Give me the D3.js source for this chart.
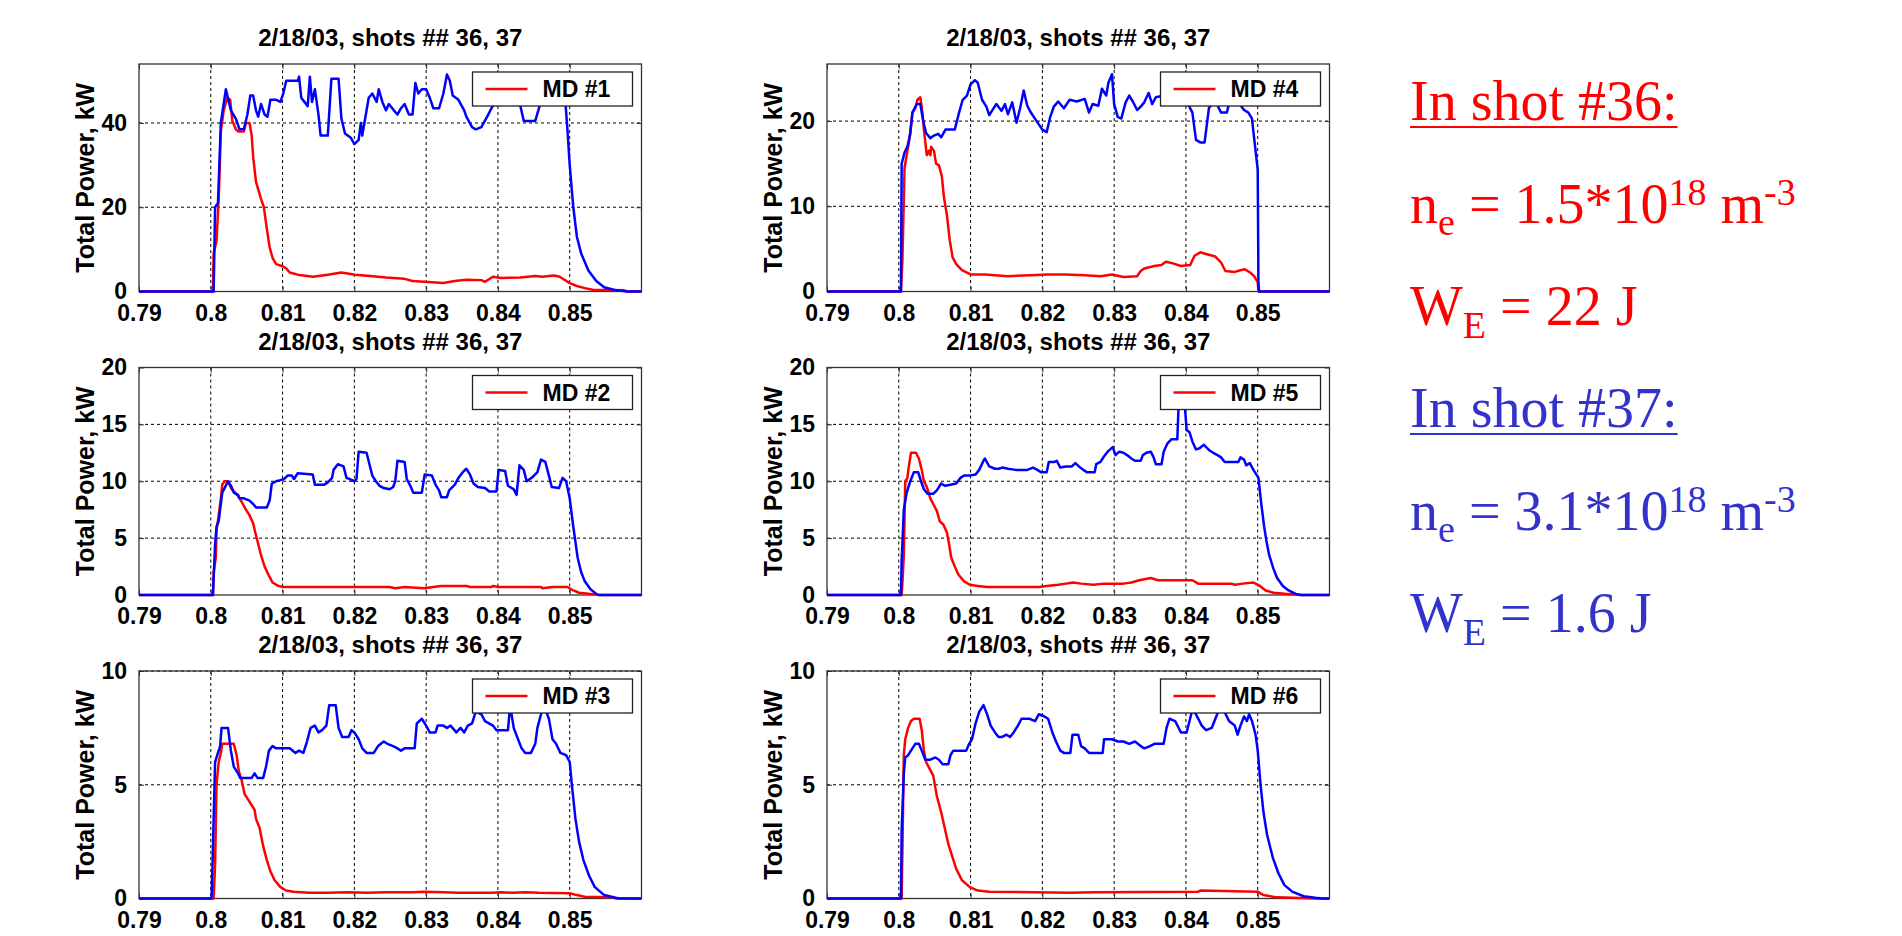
<!DOCTYPE html>
<html>
<head>
<meta charset="utf-8">
<script src="https://cdn.jsdelivr.net/npm/d3@7"></script>
<style>
  html, body { margin: 0; padding: 0; background: #ffffff; }
  svg { display: block; }
  text { white-space: pre; }
</style>
</head>
<body>
<svg id="chart" width="1902" height="936"></svg>
<script>
// ---------------- DATA ----------------
const chartTitle = "2/18/03, shots ## 36, 37";
const yAxisLabel = "Total Power, kW";
const xTicks = [0.79, 0.80, 0.81, 0.82, 0.83, 0.84, 0.85];
const xTickLabels = ["0.79", "0.8", "0.81", "0.82", "0.83", "0.84", "0.85"];
const xDomain = [0.79, 0.86];
const legendLabels = ["MD #1", "MD #2", "MD #3", "MD #4", "MD #5", "MD #6"];
const yMaxes = [54, 20, 10, 26.7, 20, 10];
const yTicks1 = [0, 20, 40];
const yTicks2 = [0, 5, 10, 15, 20];
const yTicks3 = [0, 5, 10];
const yTicks4 = [0, 10, 20];
const yTicks5 = [0, 5, 10, 15, 20];
const yTicks6 = [0, 5, 10];

// shot 36 (red) and shot 37 (blue): [time, kW]
const md1_shot36 = [[0.79,0],[0.8003,0],[0.8004,9],[0.8008,12],[0.8011,22],[0.8012,27],[0.8014,38],[0.8018,43],[0.8023,46],[0.8027,45.5],[0.803,40.5],[0.8035,38.5],[0.8038,38],[0.8046,38],[0.8049,40],[0.8054,40],[0.8057,37],[0.8059,32],[0.8063,26],[0.807,22],[0.8074,20],[0.8078,15],[0.8082,10.5],[0.8086,8],[0.8091,6.5],[0.81,6],[0.8105,5.5],[0.811,4.5],[0.8121,4],[0.8142,3.5],[0.8163,4],[0.8182,4.5],[0.8201,4],[0.8222,3.7],[0.8244,3.3],[0.827,3],[0.8281,2.5],[0.8324,2],[0.834,2.5],[0.8356,2.8],[0.8377,2.7],[0.8382,2.3],[0.8393,3.5],[0.8404,3.2],[0.8431,3.3],[0.8452,3.7],[0.8462,3.5],[0.8478,3.8],[0.8486,3.5],[0.85,2],[0.851,1.3],[0.8521,0.8],[0.8532,0.4],[0.8575,0.3],[0.858,0],[0.86,0]];
const md1_shot37 = [[0.79,0],[0.8004,0],[0.8006,20],[0.801,21],[0.8014,40],[0.8021,48],[0.8028,43],[0.8035,41],[0.804,38.5],[0.8046,38.5],[0.8051,42],[0.8055,46.5],[0.8059,46.5],[0.8063,43],[0.8066,41.5],[0.807,44.5],[0.8075,42],[0.8079,41.5],[0.8083,45.5],[0.8091,45.5],[0.8097,45],[0.8101,47],[0.8105,50],[0.8121,50],[0.8123,51],[0.8126,46],[0.8135,44],[0.8138,51],[0.8141,45],[0.8145,48],[0.815,42],[0.8153,37],[0.8163,37],[0.8168,50.5],[0.8178,50.5],[0.8182,41],[0.8187,37.5],[0.8195,36.5],[0.82,35],[0.8206,36],[0.8209,40],[0.8211,37],[0.8214,40],[0.822,46],[0.8225,47],[0.8231,45],[0.8234,48],[0.8239,45],[0.8244,43],[0.8248,44.5],[0.8255,43],[0.826,42],[0.8265,43.5],[0.827,44.5],[0.8276,42],[0.8281,42],[0.8285,49.5],[0.8289,47],[0.8294,48],[0.83,48],[0.8305,46],[0.831,43.5],[0.8318,43.5],[0.8324,47],[0.8329,51.5],[0.8333,50],[0.8337,46.5],[0.8345,45.5],[0.8353,43],[0.8356,41.5],[0.8364,39],[0.8369,38.5],[0.8377,39],[0.8385,41.5],[0.8391,43.5],[0.84,46],[0.841,47],[0.842,46],[0.843,45],[0.8436,40.5],[0.8452,40.5],[0.8458,44],[0.8465,47],[0.8475,46],[0.8485,47],[0.8494,45],[0.8497,38],[0.85,30],[0.8505,20],[0.851,13],[0.8516,9],[0.8526,5],[0.8537,2.5],[0.8548,1],[0.8564,0.3],[0.8575,0.1],[0.858,0],[0.86,0]];

const md2_shot36 = [[0.79,0],[0.8003,0],[0.8004,2],[0.8007,3.3],[0.8008,5.7],[0.8011,7],[0.8014,8.5],[0.8016,9.7],[0.8019,10],[0.8024,10],[0.8029,9.3],[0.8034,9],[0.8038,8.7],[0.8043,8.2],[0.8049,7.5],[0.8054,7],[0.8059,6.3],[0.8062,5.5],[0.8066,4.5],[0.807,3.5],[0.8075,2.5],[0.8081,1.7],[0.8086,1.1],[0.8094,0.8],[0.81,0.7],[0.8249,0.7],[0.8257,0.6],[0.827,0.7],[0.8297,0.6],[0.8321,0.8],[0.8356,0.8],[0.8361,0.7],[0.8391,0.7],[0.8393,0.8],[0.8401,0.7],[0.846,0.7],[0.8462,0.6],[0.8476,0.7],[0.8497,0.7],[0.8505,0.4],[0.8513,0.2],[0.8526,0.1],[0.8542,0],[0.86,0]];
const md2_shot37 = [[0.79,0],[0.8003,0],[0.8006,4.5],[0.8008,6],[0.8011,6.5],[0.8014,8],[0.8016,9],[0.802,9.5],[0.8024,10],[0.8029,9.5],[0.8032,9],[0.8038,8.8],[0.804,8.5],[0.8046,8.5],[0.8054,8.3],[0.8059,8],[0.8063,7.7],[0.8078,7.7],[0.8082,8.3],[0.8085,9.8],[0.8091,10],[0.8097,10.1],[0.8102,10.2],[0.8107,10.5],[0.8113,10.5],[0.8116,10.2],[0.8121,10.7],[0.8142,10.6],[0.8145,9.7],[0.8158,9.7],[0.8163,9.9],[0.8169,10.3],[0.8171,11],[0.8177,11.5],[0.8185,11.3],[0.8189,10.3],[0.8193,10.2],[0.82,10],[0.8203,10.2],[0.8206,12.6],[0.8217,12.5],[0.8221,11.5],[0.8225,10.5],[0.823,10],[0.8235,9.6],[0.8241,9.4],[0.8249,9.3],[0.8254,9.5],[0.8257,10],[0.826,11.8],[0.827,11.7],[0.8273,10.2],[0.8278,9.6],[0.8282,9],[0.8294,9],[0.8298,10.6],[0.8308,10.5],[0.8313,9.7],[0.8318,9.2],[0.8321,8.6],[0.8329,8.6],[0.8332,9.2],[0.834,9.7],[0.8345,10.3],[0.8351,10.8],[0.8356,11.1],[0.8361,10.6],[0.8366,9.8],[0.8372,9.5],[0.8382,9.4],[0.8388,9.1],[0.8398,9.1],[0.8401,11],[0.841,10.9],[0.8414,9.6],[0.8422,9.3],[0.8426,8.8],[0.843,11.4],[0.8436,11],[0.844,10],[0.8447,10.3],[0.8455,10.8],[0.846,11.9],[0.8466,11.7],[0.8471,10.5],[0.8475,9.5],[0.8485,9.4],[0.849,10.3],[0.8495,10],[0.85,8.5],[0.8505,6],[0.8511,3.3],[0.8516,2],[0.8521,1.2],[0.8529,0.5],[0.8537,0.1],[0.854,0],[0.86,0]];

const md3_shot36 = [[0.79,0],[0.8004,0],[0.8006,1.5],[0.8008,5],[0.8011,6],[0.8014,6.4],[0.8016,6.8],[0.8032,6.8],[0.8036,6.3],[0.8039,5.6],[0.8043,5.2],[0.8047,4.6],[0.8051,4.4],[0.8057,4.1],[0.8061,3.9],[0.8063,3.5],[0.8068,3.1],[0.8073,2.3],[0.8078,1.7],[0.8083,1.2],[0.8089,0.8],[0.8097,0.5],[0.8105,0.35],[0.8115,0.3],[0.8137,0.25],[0.8163,0.25],[0.819,0.28],[0.8217,0.25],[0.8244,0.28],[0.8281,0.28],[0.8297,0.3],[0.8324,0.28],[0.8345,0.25],[0.8393,0.25],[0.8404,0.28],[0.842,0.25],[0.8438,0.28],[0.8457,0.25],[0.85,0.23],[0.851,0.15],[0.8521,0.08],[0.8559,0.05],[0.8565,0],[0.86,0]];
const md3_shot37 = [[0.79,0],[0.8001,0],[0.8002,1],[0.8004,3.5],[0.8006,6],[0.8009,6.3],[0.8013,6.7],[0.8015,7.5],[0.8024,7.5],[0.8028,6.5],[0.8032,5.8],[0.8038,5.5],[0.8041,5.3],[0.8057,5.3],[0.8061,5.5],[0.8065,5.3],[0.8073,5.3],[0.8077,5.8],[0.8081,6.5],[0.8086,6.7],[0.8091,6.6],[0.811,6.6],[0.8118,6.4],[0.8123,6.5],[0.8129,6.4],[0.8134,6.9],[0.8139,7.5],[0.8145,7.6],[0.815,7.3],[0.8155,7.4],[0.8161,7.6],[0.8165,8.5],[0.8174,8.5],[0.8178,7.5],[0.8183,7.1],[0.8192,7.1],[0.8196,7.4],[0.82,7.3],[0.8206,7],[0.8211,6.6],[0.8217,6.4],[0.8227,6.4],[0.8233,6.7],[0.8241,6.9],[0.8246,6.8],[0.8254,6.7],[0.826,6.6],[0.8265,6.5],[0.827,6.6],[0.8284,6.6],[0.8287,7.7],[0.8294,7.9],[0.83,7.6],[0.8305,7.3],[0.8313,7.3],[0.8316,7.6],[0.8324,7.6],[0.8329,7.5],[0.8334,7.6],[0.8342,7.3],[0.8348,7.5],[0.8353,7.3],[0.8358,7.6],[0.8364,7.7],[0.8369,8.2],[0.8377,8.1],[0.8382,7.8],[0.8393,7.6],[0.8398,7.4],[0.8414,7.4],[0.8417,8.5],[0.8422,7.5],[0.8428,7],[0.8433,6.6],[0.8438,6.4],[0.8446,6.4],[0.8452,6.8],[0.8455,7.5],[0.846,8.1],[0.8465,8.4],[0.8471,7.9],[0.8476,7],[0.8481,6.8],[0.8487,6.4],[0.8495,6.3],[0.85,6],[0.8503,5],[0.8508,3.5],[0.8513,2.5],[0.8519,1.7],[0.8527,1],[0.8535,0.5],[0.8548,0.15],[0.8564,0.03],[0.857,0],[0.86,0]];

const md4_shot36 = [[0.79,0],[0.8003,0],[0.8005,3.5],[0.8008,14.5],[0.8011,16],[0.8015,18],[0.8019,21],[0.8023,21.5],[0.8026,22.5],[0.803,22.8],[0.8033,21],[0.8035,19],[0.8039,16],[0.8042,16.5],[0.8044,16],[0.8045,17],[0.8049,16.5],[0.8052,15],[0.8056,14.8],[0.806,13.5],[0.8063,11],[0.8067,9],[0.8071,6],[0.8075,4],[0.808,3.2],[0.8088,2.5],[0.81,2],[0.812,2],[0.8152,1.8],[0.8184,1.9],[0.8206,2],[0.8232,2],[0.8259,1.9],[0.8281,1.8],[0.8297,2],[0.8313,1.7],[0.8332,1.8],[0.8337,2.4],[0.8342,2.7],[0.8356,3],[0.8366,3.1],[0.8372,3.5],[0.8382,3.3],[0.8393,3],[0.8406,3.1],[0.8412,4.2],[0.842,4.6],[0.8428,4.4],[0.8441,4.1],[0.8449,3.4],[0.8455,2.4],[0.8468,2.3],[0.8476,2.5],[0.8482,2.6],[0.849,2.2],[0.8495,1.8],[0.85,1.1],[0.8501,0],[0.86,0]];
const md4_shot37 = [[0.79,0],[0.8003,0],[0.8004,15],[0.8008,16.3],[0.8012,17],[0.8016,18.5],[0.8019,21],[0.8025,22],[0.803,22],[0.8034,20],[0.8038,18.6],[0.8044,18],[0.8049,18.3],[0.8055,18.5],[0.8059,18.1],[0.8065,19],[0.8078,19],[0.8084,21],[0.8089,22.5],[0.8095,23],[0.81,24.3],[0.8106,24.8],[0.811,24.5],[0.8116,22.5],[0.8122,21.7],[0.8126,20.7],[0.8132,21.5],[0.8136,22],[0.8143,21.2],[0.8148,22],[0.8152,20.8],[0.8158,22.2],[0.8164,19.8],[0.8169,21.5],[0.8174,23.6],[0.8179,21.8],[0.8184,21],[0.8192,20],[0.82,19],[0.8206,18.7],[0.8211,20.5],[0.8216,21.7],[0.8222,22.3],[0.823,21.5],[0.8238,22.5],[0.8248,22.3],[0.8259,22.6],[0.8265,21],[0.827,22],[0.8278,21.8],[0.8283,23.8],[0.8289,23],[0.8292,24.5],[0.8297,25.5],[0.83,22],[0.8305,20.5],[0.831,20.3],[0.8316,22.2],[0.8321,23],[0.8326,22.3],[0.8332,21.3],[0.8337,21.7],[0.8342,22.2],[0.8348,23.3],[0.8353,22],[0.8358,22.8],[0.837,23],[0.838,22.5],[0.839,23],[0.84,22.5],[0.8409,21],[0.8414,17.8],[0.842,17.5],[0.8426,17.5],[0.8429,19.5],[0.8432,21.5],[0.844,22.5],[0.8449,21],[0.8457,21],[0.846,22],[0.847,22.5],[0.8481,21.3],[0.8487,21],[0.8492,20.3],[0.8495,18],[0.85,14.3],[0.8501,1],[0.8502,0],[0.86,0]];

const md5_shot36 = [[0.79,0],[0.8004,0],[0.8005,1],[0.8007,3.5],[0.8009,10],[0.8012,10.3],[0.8014,11.3],[0.8017,12.5],[0.8024,12.5],[0.8028,12],[0.8032,11],[0.8035,10],[0.8039,9.5],[0.8044,8.5],[0.8048,8],[0.8053,7.4],[0.8057,6.5],[0.8062,6.2],[0.8067,5.5],[0.807,4.5],[0.8073,3.3],[0.8078,2.5],[0.8083,1.8],[0.8091,1.2],[0.8099,0.9],[0.811,0.8],[0.8123,0.7],[0.8195,0.7],[0.8206,0.8],[0.8222,0.9],[0.8233,1],[0.8243,1.1],[0.8254,1],[0.8271,0.9],[0.8286,1],[0.8313,1],[0.8324,1.1],[0.8335,1.3],[0.8351,1.5],[0.8361,1.3],[0.8409,1.3],[0.8417,1],[0.8463,1],[0.8468,0.9],[0.8479,1],[0.8494,1.1],[0.8503,0.8],[0.8511,0.4],[0.8522,0.2],[0.8538,0.1],[0.8554,0.05],[0.856,0],[0.86,0]];
const md5_shot37 = [[0.79,0],[0.8003,0],[0.8004,3],[0.8007,7.5],[0.8011,9],[0.8016,10],[0.8021,10.8],[0.8027,10.8],[0.8031,10],[0.8035,9.3],[0.804,8.9],[0.8048,8.9],[0.8053,9.2],[0.8059,9.8],[0.8064,9.6],[0.8072,9.7],[0.808,9.8],[0.8086,10.3],[0.8091,10.5],[0.8099,10.5],[0.8107,10.6],[0.8112,11],[0.8118,11.8],[0.812,12],[0.8126,11.3],[0.8134,11.1],[0.8139,11.1],[0.8144,11.2],[0.8152,11.1],[0.8163,11],[0.8179,11],[0.8187,11.2],[0.8193,11],[0.8198,10.8],[0.8206,10.8],[0.8209,11.7],[0.8217,11.7],[0.822,11.8],[0.8225,11.2],[0.8233,11.3],[0.8241,11.3],[0.8246,11.6],[0.8251,11.3],[0.8257,11],[0.8262,10.8],[0.8273,10.8],[0.8275,11.5],[0.8281,11.7],[0.8286,12.2],[0.8291,12.6],[0.8298,13],[0.8302,12.3],[0.8307,12.6],[0.8313,12.5],[0.8318,12.3],[0.8324,12],[0.8329,11.8],[0.8337,11.8],[0.834,12.3],[0.8345,12.5],[0.8351,12.6],[0.8355,12.1],[0.8358,11.5],[0.8366,11.5],[0.8369,12.6],[0.8374,13.3],[0.838,13.7],[0.8388,13.7],[0.839,17],[0.8398,17],[0.8401,14.5],[0.8405,14.3],[0.8409,13.5],[0.8414,12.8],[0.8419,12.9],[0.8425,13.2],[0.8433,12.7],[0.8438,12.5],[0.8444,12.3],[0.8449,12.1],[0.8454,11.7],[0.8473,11.7],[0.8476,12.1],[0.8481,11.9],[0.8484,11.4],[0.8489,11.6],[0.8494,11],[0.8501,10.3],[0.8505,8],[0.8509,6],[0.8512,4.8],[0.8516,3.5],[0.8522,2.3],[0.8527,1.5],[0.8535,0.8],[0.8543,0.4],[0.8553,0.1],[0.856,0],[0.86,0]];

const md6_shot36 = [[0.79,0],[0.8004,0],[0.8005,2],[0.8007,6.3],[0.8009,7],[0.8013,7.5],[0.8017,7.8],[0.8021,7.9],[0.8029,7.9],[0.8032,7.4],[0.8035,6.5],[0.8038,6],[0.8043,5.7],[0.8048,5.4],[0.8053,4.5],[0.8059,3.8],[0.8064,3.1],[0.8069,2.4],[0.8075,1.8],[0.808,1.3],[0.8088,0.8],[0.8099,0.5],[0.811,0.35],[0.8126,0.3],[0.8238,0.25],[0.8273,0.28],[0.8417,0.3],[0.842,0.35],[0.85,0.3],[0.8508,0.15],[0.8527,0.05],[0.858,0],[0.86,0]];
const md6_shot37 = [[0.79,0],[0.8003,0],[0.8004,3],[0.8007,5.5],[0.8009,6.2],[0.8013,6.3],[0.8019,6.6],[0.8023,6.8],[0.8028,6.8],[0.8032,6.5],[0.8037,6.1],[0.8044,6.1],[0.8051,6.2],[0.8056,6.1],[0.8061,5.9],[0.8069,5.9],[0.8072,6.3],[0.8076,6.5],[0.8094,6.5],[0.8098,6.8],[0.8102,7],[0.8107,7.7],[0.8112,8.2],[0.8118,8.5],[0.8123,8.1],[0.8128,7.6],[0.8134,7.3],[0.8139,7.1],[0.8144,7.1],[0.815,7.2],[0.8155,7.1],[0.816,7.3],[0.8166,7.6],[0.8171,7.9],[0.8182,7.9],[0.819,7.8],[0.8195,8.1],[0.8203,8],[0.8208,7.9],[0.8214,7.3],[0.8219,6.9],[0.8225,6.5],[0.823,6.4],[0.8239,6.4],[0.8242,7.2],[0.825,7.2],[0.8254,6.7],[0.8259,6.6],[0.8265,6.4],[0.8284,6.4],[0.8286,7],[0.8297,7],[0.8305,6.9],[0.8313,6.9],[0.8321,6.8],[0.8329,6.9],[0.8337,6.7],[0.8342,6.6],[0.835,6.7],[0.8356,6.8],[0.8369,6.8],[0.8373,7.5],[0.8377,7.9],[0.8385,7.8],[0.8393,7.3],[0.8401,7.3],[0.8405,7.8],[0.8409,8.3],[0.8414,8.1],[0.8422,7.6],[0.8428,7.4],[0.8436,7.5],[0.8441,7.9],[0.8446,8.3],[0.8454,8.2],[0.846,7.8],[0.8468,7.6],[0.8472,7.2],[0.8476,7.6],[0.8481,8],[0.8485,7.8],[0.8488,8.1],[0.8492,7.8],[0.8497,7.2],[0.85,6.5],[0.8504,5],[0.8508,3.8],[0.8513,2.8],[0.8521,1.8],[0.8529,1.1],[0.8537,0.6],[0.8548,0.3],[0.8564,0.1],[0.858,0.03],[0.859,0],[0.86,0]];

// Right-hand annotation text
const shotLabels = ["In shot #36:", "In shot #37:"];
const densityValues = ["1.5", "3.1"];
const energyValues = ["22", "1.6"];

// ---------------- LAYOUT / STYLE ----------------
const RED = "#ff0000", BLUE = "#0000ff";
const TEXT_BLUE = "#3333cc";
const sansFont = "'Liberation Sans', Arial, Helvetica, sans-serif";
const serifFont = "'Liberation Serif', 'Times New Roman', serif";
const colX = [139, 827];
const rowY = [64, 367.5, 671];
const plotW = 502.5, plotH = 227.5;

const panels = [
  { legend: legendLabels[0], s36: md1_shot36, s37: md1_shot37, yMax: yMaxes[0], yTicks: yTicks1, col: 0, row: 0 },
  { legend: legendLabels[1], s36: md2_shot36, s37: md2_shot37, yMax: yMaxes[1], yTicks: yTicks2, col: 0, row: 1 },
  { legend: legendLabels[2], s36: md3_shot36, s37: md3_shot37, yMax: yMaxes[2], yTicks: yTicks3, col: 0, row: 2 },
  { legend: legendLabels[3], s36: md4_shot36, s37: md4_shot37, yMax: yMaxes[3], yTicks: yTicks4, col: 1, row: 0 },
  { legend: legendLabels[4], s36: md5_shot36, s37: md5_shot37, yMax: yMaxes[4], yTicks: yTicks5, col: 1, row: 1 },
  { legend: legendLabels[5], s36: md6_shot36, s37: md6_shot37, yMax: yMaxes[5], yTicks: yTicks6, col: 1, row: 2 }
];

const svg = d3.select("#chart");
svg.append("rect").attr("width", 1902).attr("height", 936).attr("fill", "#fff");
const defs = svg.append("defs");

panels.forEach((p, i) => {
  const ox = colX[p.col], oy = rowY[p.row];
  const g = svg.append("g").attr("transform", `translate(${ox},${oy})`);
  const x = d3.scaleLinear().domain(xDomain).range([0, plotW]);
  const y = d3.scaleLinear().domain([0, p.yMax]).range([plotH, 0]);

  defs.append("clipPath").attr("id", "clip" + i)
    .append("rect").attr("x", -2).attr("y", -2).attr("width", plotW + 4).attr("height", plotH + 4);

  // grid
  const grid = g.append("g");
  grid.selectAll("line.vx").data(xTicks.slice(1)).enter().append("line")
    .attr("x1", d => x(d)).attr("x2", d => x(d)).attr("y1", 0).attr("y2", plotH)
    .attr("stroke", "#000").attr("stroke-width", 1).attr("stroke-dasharray", "3,3");
  grid.selectAll("line.hy").data(p.yTicks.slice(1)).enter().append("line")
    .attr("x1", 0).attr("x2", plotW).attr("y1", d => y(d)).attr("y2", d => y(d))
    .attr("stroke", "#000").attr("stroke-width", 1).attr("stroke-dasharray", "3,3");

  // axes (MATLAB style, inward ticks)
  const xAxisB = d3.axisBottom(x).tickValues(xTicks).tickSizeInner(-5).tickSizeOuter(0)
    .tickFormat((d, k) => xTickLabels[k]).tickPadding(13);
  const gx = g.append("g").attr("transform", `translate(0,${plotH})`).call(xAxisB);
  gx.select(".domain").remove();
  gx.selectAll(".tick line").attr("stroke", "#333");
  gx.selectAll("text").attr("font-family", sansFont).attr("font-weight", "bold")
    .attr("font-size", 23).attr("fill", "#000").attr("dy", "0.71em");

  const xAxisT = d3.axisTop(x).tickValues(xTicks).tickSizeInner(-5).tickSizeOuter(0).tickFormat("");
  const gxt = g.append("g").call(xAxisT);
  gxt.select(".domain").remove();
  gxt.selectAll(".tick line").attr("stroke", "#333");

  const yAxisL = d3.axisLeft(y).tickValues(p.yTicks).tickSizeInner(-5).tickSizeOuter(0)
    .tickFormat(d3.format("d")).tickPadding(12);
  const gy = g.append("g").call(yAxisL);
  gy.select(".domain").remove();
  gy.selectAll(".tick line").attr("stroke", "#333");
  gy.selectAll("text").attr("font-family", sansFont).attr("font-weight", "bold")
    .attr("font-size", 23).attr("fill", "#000");

  const yAxisR = d3.axisRight(y).tickValues(p.yTicks).tickSizeInner(-5).tickSizeOuter(0).tickFormat("");
  const gyr = g.append("g").attr("transform", `translate(${plotW},0)`).call(yAxisR);
  gyr.select(".domain").remove();
  gyr.selectAll(".tick line").attr("stroke", "#333");

  // box
  g.append("rect").attr("x", 0).attr("y", 0).attr("width", plotW).attr("height", plotH)
    .attr("fill", "none").attr("stroke", "#333").attr("stroke-width", 1.3);

  // lines
  const line = d3.line().x(d => x(d[0])).y(d => y(d[1]));
  const lg = g.append("g").attr("clip-path", `url(#clip${i})`);
  lg.append("path").datum(p.s36).attr("d", line).attr("fill", "none")
    .attr("stroke", RED).attr("stroke-width", 2.5).attr("stroke-linejoin", "round");
  lg.append("path").datum(p.s37).attr("d", line).attr("fill", "none")
    .attr("stroke", BLUE).attr("stroke-width", 2.5).attr("stroke-linejoin", "round");

  // title
  g.append("text").attr("x", plotW / 2).attr("y", -18).attr("text-anchor", "middle")
    .attr("font-family", sansFont).attr("font-weight", "bold").attr("font-size", 24)
    .attr("fill", "#000").text(chartTitle);

  // y label
  g.append("text").attr("transform", `translate(-45,${plotH / 2}) rotate(-90)`)
    .attr("text-anchor", "middle").attr("font-family", sansFont).attr("font-weight", "bold")
    .attr("font-size", 25).attr("fill", "#000").text(yAxisLabel);

  // legend
  const lw = 160, lh = 34;
  const leg = g.append("g").attr("transform", `translate(${plotW - 9 - lw},8)`);
  leg.append("rect").attr("width", lw).attr("height", lh).attr("fill", "#fff")
    .attr("stroke", "#222").attr("stroke-width", 1.3);
  leg.append("line").attr("x1", 13).attr("x2", 55).attr("y1", lh / 2).attr("y2", lh / 2)
    .attr("stroke", RED).attr("stroke-width", 2.5);
  leg.append("text").attr("x", 70).attr("y", lh / 2).attr("dy", "0.36em")
    .attr("font-family", sansFont).attr("font-weight", "bold").attr("font-size", 23)
    .attr("fill", "#000").text(p.legend);
});

// ---------------- Right-hand annotations ----------------
const ann = svg.append("g").attr("font-family", serifFont);
const annX = 1410;
const blocks = [
  { color: RED, base: 120, label: shotLabels[0], dens: densityValues[0], energy: energyValues[0] },
  { color: TEXT_BLUE, base: 427, label: shotLabels[1], dens: densityValues[1], energy: energyValues[1] }
];
blocks.forEach(b => {
  const t1 = ann.append("text").attr("x", annX).attr("y", b.base).attr("font-size", 56)
    .attr("fill", b.color).text(b.label);
  const w = t1.node().getComputedTextLength();
  ann.append("line").attr("x1", annX).attr("x2", annX + w).attr("y1", b.base + 7).attr("y2", b.base + 7)
    .attr("stroke", b.color).attr("stroke-width", 2);

  const t2 = ann.append("text").attr("x", annX).attr("y", b.base + 103).attr("font-size", 56).attr("fill", b.color);
  t2.append("tspan").text("n");
  t2.append("tspan").attr("font-size", 38).attr("dy", 12).text("e");
  t2.append("tspan").attr("dy", -12).text(" = " + b.dens + "*10");
  t2.append("tspan").attr("font-size", 38).attr("dy", -18).text("18");
  t2.append("tspan").attr("dy", 18).text(" m");
  t2.append("tspan").attr("font-size", 38).attr("dy", -18).text("-3");

  const t3 = ann.append("text").attr("x", annX).attr("y", b.base + 205).attr("font-size", 56).attr("fill", b.color);
  t3.append("tspan").text("W");
  t3.append("tspan").attr("font-size", 38).attr("dy", 13).text("E");
  t3.append("tspan").attr("dy", -13).text(" = " + b.energy + " J");
});
</script>
</body>
</html>
